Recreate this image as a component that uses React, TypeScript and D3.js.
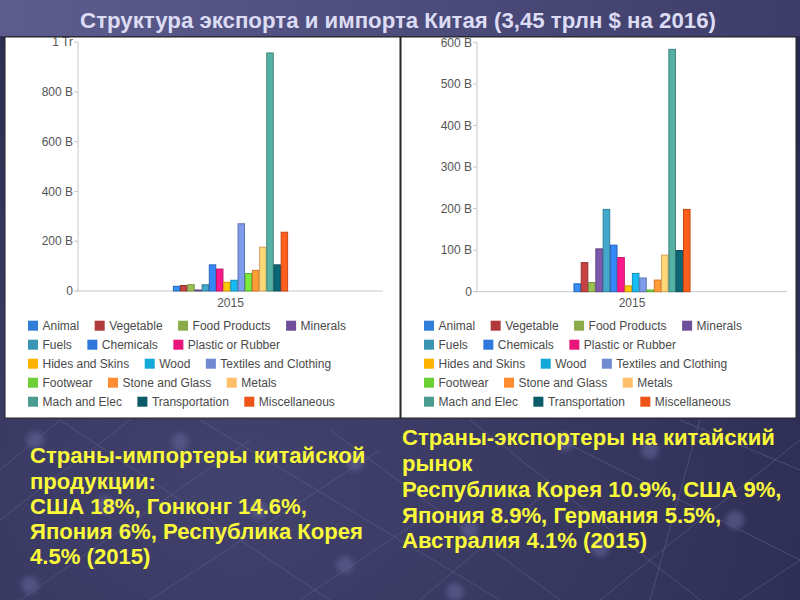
import React from 'react';
import * as d3 from 'd3';

// --- data -----------------------------------------------------------------

const years = ['2015'];

const categories = [
  'Animal', 'Vegetable', 'Food Products', 'Minerals',
  'Fuels', 'Chemicals', 'Plastic or Rubber',
  'Hides and Skins', 'Wood', 'Textiles and Clothing',
  'Footwear', 'Stone and Glass', 'Metals',
  'Mach and Elec', 'Transportation', 'Miscellaneous',
];

// billions of US$, 2015
const exportValues = [19, 22, 25, 1, 25, 105, 88, 35, 43, 270, 70, 83, 176, 956, 105, 236];
const importValues = [19, 70, 22, 103, 198, 112, 82, 14, 44, 33, 4, 28, 88, 583, 99, 198];

const seriesColors = [
  '#2f7ed8', '#b03a3a', '#8bab4a', '#6f4f9a',
  '#3a95b5', '#2e78dc', '#e8157a',
  '#ffb300', '#14a8d8', '#6f8ad0',
  '#6ccf35', '#ff8c30', '#ffbf6a',
  '#4a9c90', '#0a5a68', '#ee5418',
];

const exportTicks = [0, 200, 400, 600, 800, 1000];
const exportTickLabels = ['0', '200 B', '400 B', '600 B', '800 B', '1 Tr'];
const importTicks = [0, 100, 200, 300, 400, 500, 600];
const importTickLabels = ['0', '100 B', '200 B', '300 B', '400 B', '500 B', '600 B'];

const titleText = 'Структура экспорта и импорта Китая (3,45 трлн $ на 2016)';

const importersLines = [
  'Страны-импортеры китайской',
  'продукции:',
  'США 18%, Гонконг 14.6%,',
  'Япония 6%, Республика Корея',
  '4.5% (2015)',
];

const exportersLines = [
  'Страны-экспортеры на китайский',
  'рынок',
  'Республика Корея 10.9%, США 9%,',
  'Япония 8.9%, Германия 5.5%,',
  'Австралия 4.1% (2015)',
];

// --- helpers --------------------------------------------------------------

const FONT = '"Liberation Sans", Arial, Helvetica, sans-serif';

let measureCtx: CanvasRenderingContext2D | null = null;
function measure(text: string, font: string) {
  if (!measureCtx) {
    measureCtx = document.createElement('canvas').getContext('2d');
  }
  if (!measureCtx) return text.length * 6;
  measureCtx.font = font;
  return measureCtx.measureText(text).width;
}

// flow legend: items wrap when they would pass maxX
function layoutLegend(startX: number, maxX: number) {
  const items: { name: string; i: number; x: number; row: number }[] = [];
  let cx = startX;
  let row = 0;
  categories.forEach((name, i) => {
    const w = 14.5 + measure(name, `12px ${FONT}`);
    if (cx > startX && cx + w > maxX) {
      row += 1;
      cx = startX;
    }
    items.push({ name, i, x: cx, row });
    cx += w + 15.5;
  });
  return items;
}

// decorative lattice of the slide background
const netLines = [
  [0, 520, 130, 420], [0, 470, 60, 420], [20, 600, 250, 440], [150, 600, 380, 450],
  [300, 600, 420, 520], [60, 420, 330, 600], [200, 420, 500, 600], [330, 430, 560, 600],
  [470, 420, 700, 600], [560, 440, 800, 560], [680, 420, 800, 470], [600, 600, 800, 440],
  [740, 600, 800, 560], [420, 600, 560, 480], [700, 420, 650, 600],
];
const netNodes = [
  [35, 440], [180, 442], [355, 462], [105, 505], [258, 510], [345, 565],
  [565, 442], [650, 450], [470, 530], [600, 548], [735, 520], [30, 585], [455, 592],
];

interface PanelProps {
  id: string;
  x: number;
  y: number;
  width: number;
  height: number;
  axisLeft: number;
  plotRight: number;
  yZero: number;
  yTop: number;
  maxValue: number;
  values: number[];
  ticks: number[];
  tickLabels: string[];
}

function TradePanel(props: PanelProps) {
  const {
    id, x, y, width, height, axisLeft, plotRight, yZero, yTop, maxValue, values, ticks, tickLabels,
  } = props;

  const yScale = d3.scaleLinear().domain([0, maxValue]).range([yZero, yTop]);
  const x0 = d3.scaleBand().domain(years).range([axisLeft, plotRight]).padding(0.455);
  const x1 = d3.scaleBand().domain(categories).range([0, x0.bandwidth()]).paddingInner(0.1);

  const legend = layoutLegend(x + 23, x + 360);

  return (
    <g>
      <defs>
        <clipPath id={`clip-${id}`}>
          <rect x={x} y={y} width={width} height={height} />
        </clipPath>
      </defs>
      <rect x={x} y={y} width={width} height={height} fill="#fff" stroke="#222" strokeWidth={1} />
      <g clipPath={`url(#clip-${id})`}>
        {/* axes */}
        <line x1={axisLeft} x2={axisLeft} y1={yTop} y2={yZero} stroke="#c8c8c8" />
        <line x1={axisLeft - 2} x2={plotRight} y1={yZero} y2={yZero} stroke="#c8c8c8" />
        {ticks.map((t, i) => (
          <g key={t}>
            <line x1={axisLeft - 4} x2={axisLeft} y1={yScale(t)} y2={yScale(t)} stroke="#c8c8c8" />
            <text
              x={axisLeft - 5}
              y={yScale(t)}
              dy="0.35em"
              textAnchor="end"
              fontSize={12}
              fontFamily={FONT}
              fill="#555"
            >
              {tickLabels[i]}
            </text>
          </g>
        ))}
        {years.map((yr) => (
          <text
            key={yr}
            x={(x0(yr) || 0) + x0.bandwidth() / 2}
            y={306.5}
            textAnchor="middle"
            fontSize={12}
            fontFamily={FONT}
            fill="#555"
          >
            {yr}
          </text>
        ))}

        {/* bars */}
        {categories.map((cat, i) => {
          const c = d3.color(seriesColors[i]);
          const v = values[i];
          const top = yScale(v);
          const h = Math.max(1, yZero - top);
          return (
            <rect
              key={cat}
              x={(x0(years[0]) || 0) + (x1(cat) || 0)}
              y={yZero - h}
              width={x1.bandwidth()}
              height={h}
              fill={c ? c.brighter(0.35).formatHex() : seriesColors[i]}
              stroke={c ? c.darker(0.5).formatHex() : seriesColors[i]}
              strokeWidth={1}
            />
          );
        })}

        {/* legend */}
        {legend.map((it) => {
          const cy = 325.7 + it.row * 19;
          return (
            <g key={it.name}>
              <rect x={it.x} y={cy - 5} width={10} height={10} fill={seriesColors[it.i]} />
              <text
                x={it.x + 14.5}
                y={cy}
                dy="0.36em"
                fontSize={12}
                fontFamily={FONT}
                fill="#4a4a4a"
              >
                {it.name}
              </text>
            </g>
          );
        })}
      </g>
    </g>
  );
}

export default function App() {
  const captionFont = `bold 22px ${FONT}`;
  const captionScale = 373 / measure(exportersLines[0], captionFont);
  const titleSize = 20 * (636 / measure(titleText, `bold 20px ${FONT}`));

  return (
    <svg
      width={800}
      height={600}
      style={{ position: 'absolute', left: 0, top: 0 }}
      xmlns="http://www.w3.org/2000/svg"
    >
      <defs>
        <radialGradient id="slideBg" cx="0.3" cy="0.8" r="0.9">
          <stop offset="0%" stopColor="#42426e" />
          <stop offset="100%" stopColor="#2b2b50" />
        </radialGradient>
        <linearGradient id="titleBg" x1="0" x2="1" y1="0" y2="0">
          <stop offset="0%" stopColor="#5c5c8e" />
          <stop offset="100%" stopColor="#3e3d69" />
        </linearGradient>
        <filter id="soft">
          <feGaussianBlur stdDeviation="2.5" />
        </filter>
      </defs>

      <rect x={0} y={0} width={800} height={600} fill="url(#slideBg)" />
      <g stroke="#6a6a9a" strokeOpacity={0.45} strokeWidth={1}>
        {netLines.map((l, i) => (
          <line key={i} x1={l[0]} y1={l[1]} x2={l[2]} y2={l[3]} />
        ))}
      </g>
      <g fill="#5c5c8e" fillOpacity={0.7} filter="url(#soft)">
        {netNodes.map((n, i) => (
          <circle key={i} cx={n[0]} cy={n[1]} r={9} />
        ))}
      </g>

      {/* title bar */}
      <rect x={0} y={0} width={800} height={37} fill="url(#titleBg)" />
      <line x1={0} x2={800} y1={37} y2={37} stroke="#2a2a48" strokeWidth={1.5} />
      <text
        x={398}
        y={27.5}
        textAnchor="middle"
        fontSize={titleSize}
        fontWeight="bold"
        fontFamily={FONT}
        fill="#dcdcf4"
      >
        {titleText}
      </text>

      <TradePanel
        id="exports"
        x={5}
        y={37}
        width={395}
        height={381}
        axisLeft={78}
        plotRight={383}
        yZero={291}
        yTop={42}
        maxValue={1000}
        values={exportValues}
        ticks={exportTicks}
        tickLabels={exportTickLabels}
      />
      <TradePanel
        id="imports"
        x={401}
        y={37}
        width={395}
        height={381}
        axisLeft={477}
        plotRight={787}
        yZero={291.7}
        yTop={42.3}
        maxValue={600}
        values={importValues}
        ticks={importTicks}
        tickLabels={importTickLabels}
      />

      {/* captions */}
      <g transform={`translate(30,0) scale(${captionScale},1)`}>
        {importersLines.map((line, i) => (
          <text
            key={line}
            x={0}
            y={463.5 + i * 25.2}
            fontSize={22}
            fontWeight="bold"
            fontFamily={FONT}
            fill="#fafa3a"
          >
            {line}
          </text>
        ))}
      </g>
      <g transform={`translate(402,0) scale(${captionScale},1)`}>
        {exportersLines.map((line, i) => (
          <text
            key={line}
            x={0}
            y={445.5 + i * 25.7}
            fontSize={22}
            fontWeight="bold"
            fontFamily={FONT}
            fill="#fafa3a"
          >
            {line}
          </text>
        ))}
      </g>
    </svg>
  );
}
